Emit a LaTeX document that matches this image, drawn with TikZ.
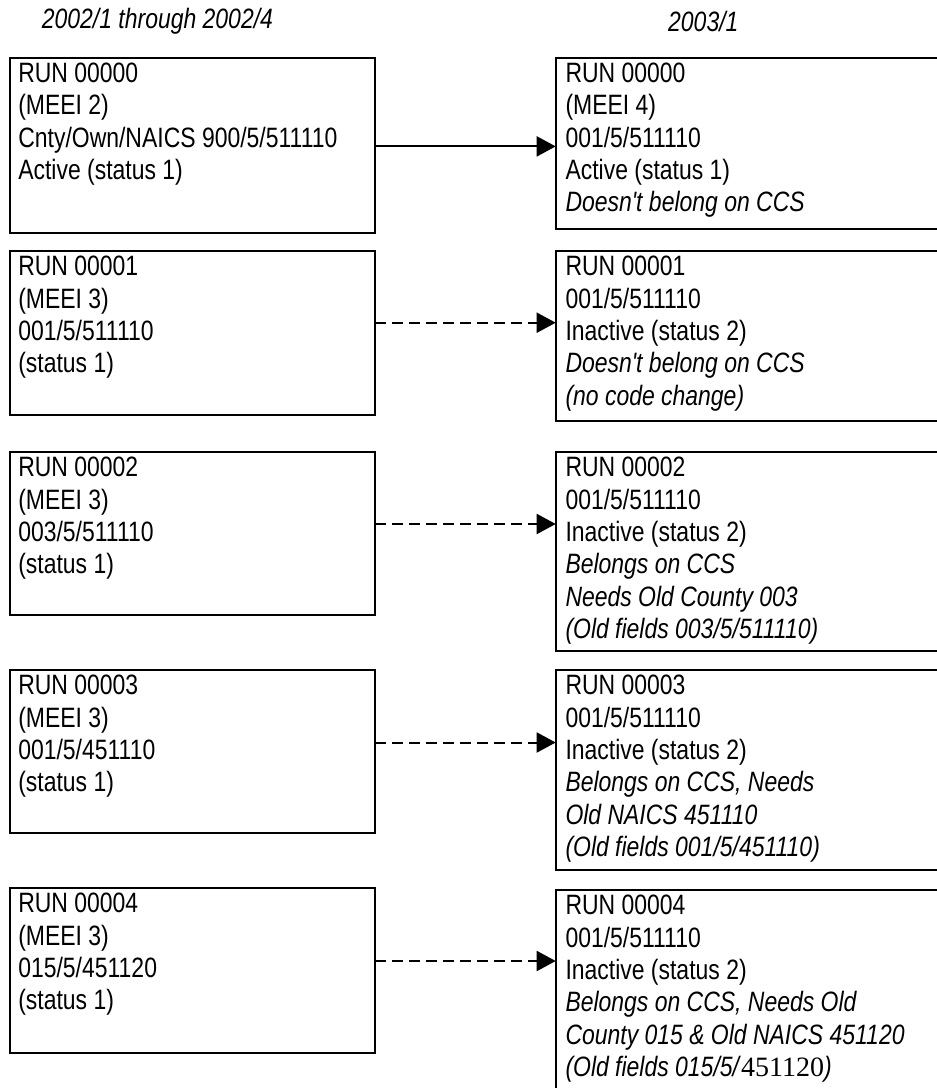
\documentclass[tikz,border=0pt]{standalone}
\usepackage{fontspec}
\setmainfont{Liberation Sans}[FakeStretch=0.82, Ligatures=TeXOff]
\newfontfamily\serifnum{Liberation Serif}
\usetikzlibrary{arrows.meta}
\tikzset{
  box/.style={draw=black, line width=2pt, rectangle, inner sep=0pt, outer sep=0pt, anchor=north west},
  txt/.style={anchor=north west, inner sep=0pt, outer sep=0pt, align=left,
    font=\fontsize{28}{32.4}\selectfont},
  hdr/.style={anchor=west, inner sep=0pt, font=\fontsize{28}{32.4}\selectfont\itshape},
  conn/.style={line width=2pt, -{Triangle[length=19pt,width=20pt]}, shorten >=0pt},
  dconn/.style={conn, dash pattern=on 11pt off 6pt},
}
\begin{document}
\begin{tikzpicture}[x=1pt,y=-1pt]
\useasboundingbox (0,0) rectangle (937,1088);
\clip (0,0) rectangle (937,1088);
% headers
\node[hdr] (h1) at (41.7,21) {2002/1 through 2002/4};
\node[hdr] (h2) at (668,21) {2003/1};
% left boxes
\node[box, minimum width=365pt, minimum height=174.9pt] (L1) at (10,57.6) {};
\node[box, minimum width=365pt, minimum height=164pt] (L2) at (10,251) {};
\node[box, minimum width=365pt, minimum height=163pt] (L3) at (10,452) {};
\node[box, minimum width=365pt, minimum height=163pt] (L4) at (10,670) {};
\node[box, minimum width=365pt, minimum height=165pt] (L5) at (10,888) {};
% right boxes
\node[box, minimum width=420pt, minimum height=171.4pt] (R1) at (555.7,57.6) {};
\node[box, minimum width=420pt, minimum height=169.5pt] (R2) at (555.7,251) {};
\node[box, minimum width=420pt, minimum height=199pt] (R3) at (555.7,452) {};
\node[box, minimum width=420pt, minimum height=200pt] (R4) at (555.7,670) {};
\node[box, minimum width=420pt, minimum height=240pt] (R5) at (555.7,890) {};
% left texts
\node[txt] (L1t) at ([xshift=8.3pt,yshift=-5.2pt]L1.north west) {RUN 00000\\(MEEI 2)\\Cnty/Own/NAICS 900/5/511110\\Active (status 1)};
\node[txt] (L2t) at ([xshift=8.3pt,yshift=-5.2pt]L2.north west) {RUN 00001\\(MEEI 3)\\001/5/511110\\(status 1)};
\node[txt] (L3t) at ([xshift=8.3pt,yshift=-5.2pt]L3.north west) {RUN 00002\\(MEEI 3)\\003/5/511110\\(status 1)};
\node[txt] (L4t) at ([xshift=8.3pt,yshift=-5.2pt]L4.north west) {RUN 00003\\(MEEI 3)\\001/5/451110\\(status 1)};
\node[txt] (L5t) at ([xshift=8.3pt,yshift=-5.2pt]L5.north west) {RUN 00004\\(MEEI 3)\\015/5/451120\\(status 1)};
% right texts
\node[txt] (R1t) at ([xshift=9.8pt,yshift=-5.2pt]R1.north west) {RUN 00000\\(MEEI 4)\\001/5/511110\\Active (status 1)\\\textit{Doesn't belong on CCS}};
\node[txt] (R2t) at ([xshift=9.8pt,yshift=-5.2pt]R2.north west) {RUN 00001\\001/5/511110\\Inactive (status 2)\\\textit{Doesn't belong on CCS}\\\textit{(no code change)}};
\node[txt] (R3t) at ([xshift=9.8pt,yshift=-5.2pt]R3.north west) {RUN 00002\\001/5/511110\\Inactive (status 2)\\\textit{Belongs on CCS}\\\textit{Needs Old County 003}\\\textit{(Old fields 003/5/511110)}};
\node[txt] (R4t) at ([xshift=9.8pt,yshift=-5.2pt]R4.north west) {RUN 00003\\001/5/511110\\Inactive (status 2)\\\textit{Belongs on CCS, Needs}\\\textit{Old NAICS 451110}\\\textit{(Old fields 001/5/451110)}};
\node[txt] (R5t) at ([xshift=9.8pt,yshift=-5.2pt]R5.north west) {RUN 00004\\001/5/511110\\Inactive (status 2)\\\textit{Belongs on CCS, Needs Old}\\\textit{County 015 \& Old NAICS 451120}\\\textit{(Old fields 015/5/}{\serifnum 451120}\textit{)}};
% connectors
\draw[conn] (L1.east |- 0,146.4) -- (R1.west |- 0,146.4);
\draw[dconn] (L2.east |- 0,322.7) -- (R2.west |- 0,322.7);
\draw[dconn] (L3.east |- 0,524) -- (R3.west |- 0,524);
\draw[dconn] (L4.east |- 0,742.5) -- (R4.west |- 0,742.5);
\draw[dconn] (L5.east |- 0,961) -- (R5.west |- 0,961);
\end{tikzpicture}
\end{document}
